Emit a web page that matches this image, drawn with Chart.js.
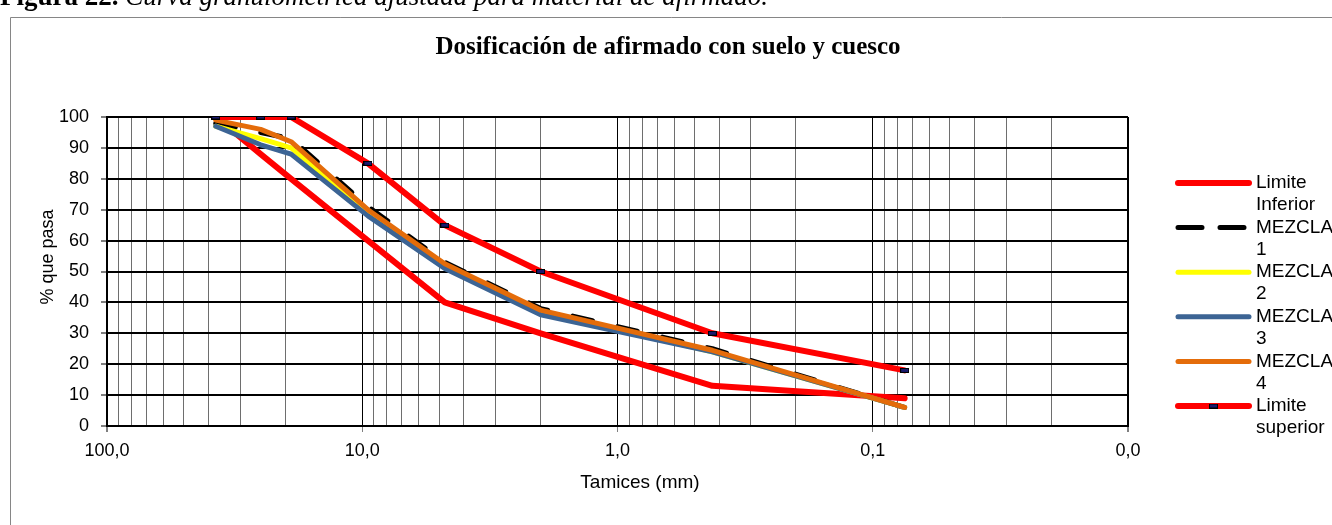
<!DOCTYPE html>
<html>
<head>
<meta charset="utf-8">
<script src="https://cdn.jsdelivr.net/npm/chart.js@4/dist/chart.umd.min.js"></script>
<style>
  html, body { margin: 0; padding: 0; background: #fff; overflow: hidden; }
  #wrap { width: 1332px; height: 525px; position: relative; }
</style>
</head>
<body>
<div id="wrap"><canvas id="c" width="1332" height="525"></canvas></div>
<script>
// Aberturas de tamiz (mm)
const sieves = [37.5, 25, 19, 9.5, 4.75, 2.0, 0.425, 0.075];

// Porcentaje que pasa
const limiteInferior = [100, 88, 80, 60, 40, 30, 13, 9];
const mezcla1 = [98, 95, 93, 71, 53, 38, 25, 6];
const mezcla2 = [97, 93, 90, 69, 52, 37, 24, 6];
const mezcla3 = [97, 91, 88, 68, 51, 36, 24, 6];
const mezcla4 = [99, 96, 92, 70, 52.5, 37.5, 24.5, 6];
const limiteSuperior = [100, 100, 100, 85, 65, 50, 30, 18];

// Etiquetas de ejes
const xTickValues = [100, 10, 1, 0.1, 0.01];
const xTickLabels = ['100,0', '10,0', '1,0', '0,1', '0,0'];
const yTickValues = [0, 10, 20, 30, 40, 50, 60, 70, 80, 90, 100];

const seriesNames = [['Limite', 'Inferior'], ['MEZCLA', '1'], ['MEZCLA', '2'], ['MEZCLA', '3'], ['MEZCLA', '4'], ['Limite', 'superior']];

const toPoints = vals => sieves.map((s, i) => ({ x: s, y: vals[i] }));

// Marcador rectangular del límite superior
const marker = document.createElement('canvas');
marker.width = 9; marker.height = 5;
(() => {
  const m = marker.getContext('2d');
  m.fillStyle = '#000';
  m.fillRect(0, 0, 9, 5);
  m.fillStyle = '#1a1a6e';
  m.fillRect(1, 1, 7, 3);
})();

const isDecade = v => Math.abs(Math.log10(v) - Math.round(Math.log10(v))) < 1e-9;

const lineBase = { tension: 0, pointRadius: 0, pointHoverRadius: 0, borderCapStyle: 'round', borderJoinStyle: 'round', fill: false };

const datasets = [
  { ...lineBase, label: 'Limite Inferior', data: toPoints(limiteInferior), borderColor: '#ff0000', borderWidth: 6, order: 5 },
  { ...lineBase, label: 'MEZCLA 1', data: toPoints(mezcla1), borderColor: '#000000', borderWidth: 5, borderDash: [20, 26], order: 4 },
  { ...lineBase, label: 'MEZCLA 2', data: toPoints(mezcla2), borderColor: '#ffff00', borderWidth: 5, order: 3 },
  { ...lineBase, label: 'MEZCLA 3', data: toPoints(mezcla3), borderColor: '#3c6494', borderWidth: 5, order: 2 },
  { ...lineBase, label: 'MEZCLA 4', data: toPoints(mezcla4), borderColor: '#e46c0a', borderWidth: 5, order: 1 },
  { ...lineBase, label: 'Limite superior', data: toPoints(limiteSuperior), borderColor: '#ff0000', borderWidth: 6, order: 0,
    pointStyle: marker, pointRadius: 4, pointHoverRadius: 4 }
];

const LEFT = 107, RIGHT_PAD = 204, TOP = 117, X_AXIS_H = 99;
const SANS = '"Liberation Sans", Arial, sans-serif';
const SERIF = '"Liberation Serif", "Times New Roman", serif';

// Título, leyenda, marco, títulos de ejes y pie de figura
const decorations = {
  id: 'decorations',
  afterDraw(chart) {
    const ctx = chart.ctx;
    ctx.save();

    // marco del gráfico
    ctx.strokeStyle = '#868686';
    ctx.lineWidth = 1;
    ctx.beginPath();
    ctx.moveTo(10.5, 525);
    ctx.lineTo(10.5, 17.5);
    ctx.lineTo(1332, 17.5);
    ctx.stroke();

    // pie de figura
    ctx.fillStyle = '#000';
    ctx.textBaseline = 'alphabetic';
    ctx.textAlign = 'left';
    ctx.font = 'bold 27px ' + SERIF;
    const lead = 'Figura 22.';
    ctx.fillText(lead, 0, 5);
    const w = ctx.measureText(lead + ' ').width;
    ctx.font = 'italic 27px ' + SERIF;
    ctx.fillText('Curva granulométrica ajustada para material de afirmado.', w, 5);

    // título
    ctx.font = 'bold 25px ' + SERIF;
    ctx.textAlign = 'center';
    ctx.textBaseline = 'middle';
    ctx.fillText('Dosificación de afirmado con suelo y cuesco', 668, 48);

    // títulos de ejes
    ctx.font = '19px ' + SANS;
    ctx.fillText('Tamices (mm)', 640, 483);
    ctx.font = '18px ' + SANS;
    ctx.save();
    ctx.translate(48, 257);
    ctx.rotate(-Math.PI / 2);
    ctx.fillText('% que pasa', 0, 0);
    ctx.restore();

    // leyenda
    const x0 = 1178, x1 = 1249, tx = 1256;
    const y0 = 183, step = 44.6;
    chart.data.datasets.forEach((ds, i) => {
      const y = y0 + i * step;
      ctx.save();
      ctx.strokeStyle = ds.borderColor;
      ctx.lineWidth = ds.borderWidth;
      ctx.lineCap = 'round';
      if (ds.borderDash) ctx.setLineDash([24, 18]);
      ctx.beginPath();
      ctx.moveTo(x0, y);
      ctx.lineTo(x1, y);
      ctx.stroke();
      ctx.restore();
      if (ds.pointStyle === marker) ctx.drawImage(marker, (x0 + x1) / 2 - 4.5, y - 2.5);
      ctx.fillStyle = '#000';
      ctx.font = '19px ' + SANS;
      ctx.textAlign = 'left';
      ctx.textBaseline = 'middle';
      seriesNames[i].forEach((t, k) => ctx.fillText(t, tx, y + k * 22));
    });

    ctx.restore();
  }
};

new Chart(document.getElementById('c'), {
  type: 'line',
  data: { datasets },
  options: {
    responsive: false,
    devicePixelRatio: 1,
    animation: false,
    layout: { padding: { left: 0, top: TOP, right: RIGHT_PAD, bottom: 0 } },
    plugins: { legend: { display: false }, tooltip: { enabled: false }, title: { display: false } },
    scales: {
      x: {
        type: 'logarithmic',
        reverse: true,
        min: 0.01,
        max: 100,
        afterFit(scale) { scale.height = X_AXIS_H; },
        afterBuildTicks(scale) {
          const t = [];
          for (let e = -2; e <= 1; e++) {
            for (let m = 1; m <= 9; m++) t.push({ value: m * Math.pow(10, e) });
          }
          t.push({ value: 100 });
          scale.ticks = t;
        },
        ticks: {
          autoSkip: false,
          maxRotation: 0,
          padding: 8,
          color: '#000',
          font: { family: SANS, size: 18 },
          callback(value) {
            const i = xTickValues.findIndex(v => Math.abs(v - value) / v < 1e-6);
            return i >= 0 ? xTickLabels[i] : '';
          }
        },
        grid: {
          color: c => isDecade(c.tick.value) ? '#000' : '#6e6e6e',
          lineWidth: c => (c.tick.value === 0.01 || c.tick.value === 100) ? 2 : 1,
          tickColor: c => isDecade(c.tick.value) ? '#7f7f7f' : 'rgba(0,0,0,0)',
          tickLength: 6,
          drawTicks: true
        },
        border: { display: true, color: '#000', width: 2 },
        title: { display: false }
      },
      y: {
        type: 'linear',
        min: 0,
        max: 100,
        afterFit(scale) { scale.width = LEFT; },
        afterBuildTicks(scale) { scale.ticks = yTickValues.map(v => ({ value: v })); },
        ticks: {
          padding: 12,
          color: '#000',
          font: { family: SANS, size: 18 }
        },
        grid: {
          color: '#000',
          lineWidth: 2,
          tickColor: '#7f7f7f',
          tickLength: 6
        },
        border: { display: true, color: '#000', width: 2 },
        title: { display: false }
      }
    }
  },
  plugins: [decorations]
});
</script>
</body>
</html>
